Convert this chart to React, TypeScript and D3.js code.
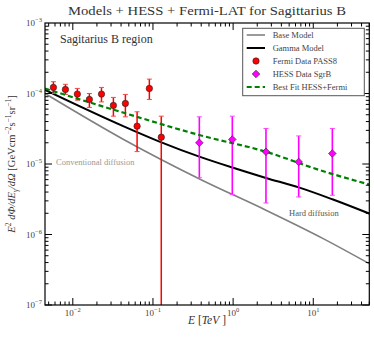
import React from "react";
import * as d3 from "d3";

const fermiE = [0.00573, 0.00809, 0.0114, 0.0161, 0.0228, 0.0321, 0.0453, 0.0634, 0.0902, 0.127];
const fermiF = [1.22e-4, 1.14e-4, 9.8e-5, 8.24e-5, 9.8e-5, 6.78e-5, 7.23e-5, 3.44e-5, 1.18e-4, 2.4e-5];
const fermiHi = [1.47e-4, 1.35e-4, 1.18e-4, 1.0e-4, 1.22e-4, 8.8e-5, 9.7e-5, 5.5e-5, 1.6e-4, 4.77e-5];
const fermiLo = [1.0e-4, 9.7e-5, 8.05e-5, 6.35e-5, 7.6e-5, 4.77e-5, 4.67e-5, 1.5e-5, 8.24e-5, 1e-8];

const hessE = [0.379, 0.977, 2.57, 6.58, 17.3];
const hessF = [2.0e-5, 2.23e-5, 1.49e-5, 1.07e-5, 1.41e-5];
const hessHi = [4.67e-5, 4.77e-5, 3.19e-5, 2.5e-5, 3.19e-5];
const hessLo = [6.4e-6, 3.69e-6, 2.8e-6, 3.41e-6, 3.6e-6];

const baseE = [0.0045, 0.0436, 0.387, 2.57, 13.3, 50];
const baseF = [1.0e-4, 2.21e-5, 6.08e-6, 2.21e-6, 8.75e-7, 3.86e-7];

const gammaE = [0.0045, 0.0412, 0.1227, 0.387, 0.977, 2.57, 6.58, 17.3, 50];
const gammaF = [1.125e-4, 3.5e-5, 2.06e-5, 1.26e-5, 8.9e-6, 6.34e-6, 4.66e-6, 3.16e-6, 1.98e-6];

const fitE = [0.0045, 0.0412, 0.387, 2.57, 12.1, 50];
const fitF = [1.175e-4, 5.41e-5, 2.56e-5, 1.49e-5, 8.17e-6, 5.12e-6];

const xTickExps = [-2, -1, 0, 1];
const yTickExps = [-7, -6, -5, -4, -3];

const legendLabels = ["Base Model", "Gamma Model", "Fermi Data PASS8", "HESS Data SgrB", "Best Fit HESS+Fermi"];

const FONT = "'Liberation Serif', 'Times New Roman', serif";

export default function App() {
  const W = 374, H = 339;
  const L = 45, R = 369.3, T = 23, B = 305;
  const x = d3.scaleLog().domain([0.0045, 50]).range([L, R]);
  const y = d3.scaleLog().domain([1e-7, 1e-3]).range([B, T]);

  const line = d3
    .line<[number, number]>()
    .x((d) => x(d[0]))
    .y((d) => y(d[1]))
    .curve(d3.curveMonotoneX);

  const mk = (E: number[], F: number[]) => line(E.map((e, i) => [e, F[i]] as [number, number])) || "";

  const xMinor: number[] = [];
  for (let e = -3; e <= 1; e++) for (let k = 1; k <= 9; k++) {
    const v = k * Math.pow(10, e);
    if (v >= 0.0045 && v <= 50) xMinor.push(v);
  }
  const yMinor: number[] = [];
  for (let e = -7; e <= -4; e++) for (let k = 1; k <= 9; k++) yMinor.push(k * Math.pow(10, e));

  const tickEls: React.ReactNode[] = [];
  xMinor.forEach((v, i) => {
    const major = Math.abs(Math.log10(v) - Math.round(Math.log10(v))) < 1e-9;
    const len = major ? 7 : 3.5;
    const px = x(v);
    tickEls.push(<line key={"xb" + i} x1={px} x2={px} y1={B} y2={B - len} stroke="#000" strokeWidth={1} />);
    tickEls.push(<line key={"xt" + i} x1={px} x2={px} y1={T} y2={T + len} stroke="#000" strokeWidth={1} />);
  });
  yMinor.forEach((v, i) => {
    const major = Math.abs(Math.log10(v) - Math.round(Math.log10(v))) < 1e-9;
    const len = major ? 7 : 3.5;
    const py = y(v);
    tickEls.push(<line key={"yl" + i} x1={L} x2={L + len} y1={py} y2={py} stroke="#000" strokeWidth={1} />);
    tickEls.push(<line key={"yr" + i} x1={R} x2={R - len} y1={py} y2={py} stroke="#000" strokeWidth={1} />);
  });

  const diamond = (cx: number, cy: number, r: number) =>
    `M${cx},${cy - r}L${cx + r},${cy}L${cx},${cy + r}L${cx - r},${cy}Z`;

  const legY = [35, 48, 61, 74, 87];

  return (
    <svg
      width={W}
      height={H}
      style={{ position: "absolute", left: 0, top: 0, background: "#fff" }}
      fontFamily={FONT}
    >
      <defs>
        <clipPath id="plot">
          <rect x={L} y={T} width={R - L} height={B - T} />
        </clipPath>
      </defs>
      <rect x={0} y={0} width={W} height={H} fill="#fff" />

      <text x={207} y={15} textAnchor="middle" fontSize={13} fill="#333" textLength={278} lengthAdjust="spacingAndGlyphs">
        Models + HESS + Fermi-LAT for Sagittarius B
      </text>

      <g clipPath="url(#plot)">
        <path d={mk(baseE, baseF)} fill="none" stroke="#808080" strokeWidth={1.6} />
        <path d={mk(gammaE, gammaF)} fill="none" stroke="#000" strokeWidth={2} />

        {fermiE.map((e, i) => (
          <g key={"fe" + i}>
            <line x1={x(e)} x2={x(e)} y1={y(fermiHi[i])} y2={y(fermiLo[i])} stroke="#f00" strokeWidth={1.5} />
            <line x1={x(e) - 2.5} x2={x(e) + 2.5} y1={y(fermiHi[i])} y2={y(fermiHi[i])} stroke="#f44" strokeWidth={1} />
            <line x1={x(e) - 2.5} x2={x(e) + 2.5} y1={y(fermiLo[i])} y2={y(fermiLo[i])} stroke="#f44" strokeWidth={1} />
          </g>
        ))}
        {hessE.map((e, i) => (
          <g key={"he" + i}>
            <line x1={x(e)} x2={x(e)} y1={y(hessHi[i])} y2={y(hessLo[i])} stroke="#f0f" strokeWidth={1.6} />
            <line x1={x(e) - 2.5} x2={x(e) + 2.5} y1={y(hessHi[i])} y2={y(hessHi[i])} stroke="#f4f" strokeWidth={1} />
            <line x1={x(e) - 2.5} x2={x(e) + 2.5} y1={y(hessLo[i])} y2={y(hessLo[i])} stroke="#f4f" strokeWidth={1} />
          </g>
        ))}

        <path d={mk(fitE, fitF)} fill="none" stroke="#008000" strokeWidth={2.2} strokeDasharray="5,3" />

        {fermiE.map((e, i) => (
          <circle key={"fp" + i} cx={x(e)} cy={y(fermiF[i])} r={3.2} fill="#f00" stroke="#222" strokeWidth={0.6} />
        ))}
        {hessE.map((e, i) => (
          <path key={"hp" + i} d={diamond(x(e), y(hessF[i]), 3.8)} fill="#f0f" stroke="#222" strokeWidth={0.6} />
        ))}
      </g>

      <rect x={L} y={T} width={R - L} height={B - T} fill="none" stroke="#000" strokeWidth={1.2} />
      {tickEls}

      {xTickExps.map((e) => (
        <text key={"xl" + e} x={x(Math.pow(10, e))} y={316} textAnchor="middle" fontSize={9} fill="#444">
          10<tspan dy={-4} fontSize={6.5}>{e < 0 ? "\u2212" + -e : e}</tspan>
        </text>
      ))}
      {yTickExps.map((e) => (
        <text key={"yl" + e} x={42} y={y(Math.pow(10, e)) + 3} textAnchor="end" fontSize={9} fill="#444">
          10<tspan dy={-4} fontSize={6.5}>{"\u2212" + -e}</tspan>
        </text>
      ))}

      <text x={207} y={324} textAnchor="middle" fontSize={11.5} fill="#333">
        <tspan fontStyle="italic">E</tspan> [<tspan fontStyle="italic">TeV</tspan> ]
      </text>
      <text transform="translate(15,164) rotate(-90)" textAnchor="middle" fontSize={10.5} fill="#333">
        <tspan fontStyle="italic">E</tspan>
        <tspan dy={-4} fontSize={7.5}>2</tspan>
        <tspan dy={4} fontStyle="italic"> dΦ/dE</tspan>
        <tspan dy={2.5} fontSize={7.5} fontStyle="italic">γ</tspan>
        <tspan dy={-2.5} fontStyle="italic">/dΩ</tspan>
        <tspan> [GeVcm</tspan>
        <tspan dy={-4} fontSize={7.5}>−2</tspan>
        <tspan dy={4}>s</tspan>
        <tspan dy={-4} fontSize={7.5}>−1</tspan>
        <tspan dy={4}>sr</tspan>
        <tspan dy={-4} fontSize={7.5}>−1</tspan>
        <tspan dy={4}>]</tspan>
      </text>

      <text x={60} y={43} fontSize={12} fill="#333">Sagitarius B region</text>
      <text x={56} y={165} fontSize={8.5} fill="#999">Conventional diffusion</text>
      <text x={289} y={215.5} fontSize={8.5} fill="#555">Hard diffusion</text>

      <rect x={242.7} y={28.3} width={121.6} height={67.4} fill="#fff" stroke="#555" strokeWidth={1} />
      <line x1={246.7} x2={265} y1={legY[0]} y2={legY[0]} stroke="#808080" strokeWidth={1.6} />
      <line x1={246.7} x2={265} y1={legY[1]} y2={legY[1]} stroke="#000" strokeWidth={2} />
      <circle cx={256} cy={legY[2]} r={3.2} fill="#f00" stroke="#222" strokeWidth={0.6} />
      <path d={diamond(256, legY[3], 3.8)} fill="#f0f" stroke="#222" strokeWidth={0.6} />
      <line x1={246.7} x2={265} y1={legY[4]} y2={legY[4]} stroke="#008000" strokeWidth={2.2} strokeDasharray="5,3" />
      {legendLabels.map((t, i) => (
        <text key={t} x={272.7} y={legY[i] + 3} fontSize={8.5} fill="#444">{t}</text>
      ))}
    </svg>
  );
}
